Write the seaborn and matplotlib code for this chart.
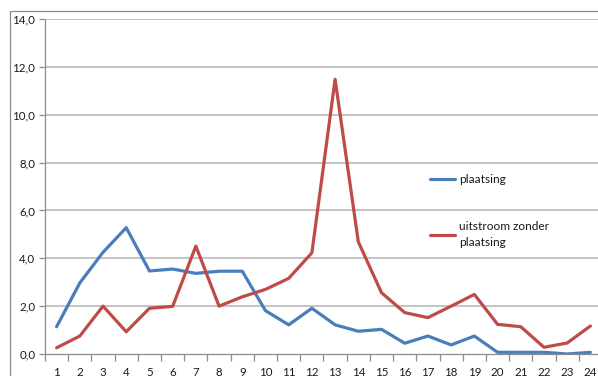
import matplotlib
matplotlib.use("Agg")
import matplotlib.pyplot as plt
from matplotlib.patches import Rectangle
from matplotlib.ticker import FixedLocator, FuncFormatter
import numpy as np
import pandas as pd
import seaborn as sns

# Maand-/periodenummers op de x-as
periods = list(range(1, 25))

# Percentages per periode
plaatsing = [1.14, 2.97, 4.25, 5.28, 3.47, 3.55, 3.37, 3.46, 3.46, 1.81, 1.22, 1.91,
             1.22, 0.95, 1.03, 0.45, 0.75, 0.38, 0.75, 0.07, 0.07, 0.07, 0.0, 0.07]
uitstroom = [0.26, 0.75, 2.0, 0.93, 1.91, 1.99, 4.51, 2.0, 2.39, 2.70, 3.16, 4.23,
             11.48, 4.69, 2.56, 1.73, 1.52, 2.0, 2.49, 1.24, 1.14, 0.28, 0.46, 1.17]

series_names = ["plaatsing", "uitstroom zonder\nplaatsing"]
series_colors = ["#4A7EBB", "#BE4B48"]
y_ticks = [0, 2, 4, 6, 8, 10, 12, 14]

df = pd.DataFrame({
    "periode": periods * 2,
    "waarde": plaatsing + uitstroom,
    "reeks": [series_names[0]] * len(periods) + [series_names[1]] * len(periods),
})

sns.set_theme(style="white")
plt.rcParams["font.family"] = ["Lato", "DejaVu Sans"]

W, H = 598, 376
fig = plt.figure(figsize=(W / 100, H / 100), dpi=100)
fig.patch.set_facecolor("white")

# outer chart frame (extends past the right/bottom edge)
fig.patches.append(Rectangle((9.5 / W, -0.1), 1.2, (H - 10.5) / H + 0.1,
                             transform=fig.transFigure, fill=False,
                             edgecolor="#8c8c8c", linewidth=0.9, zorder=0))

ax_left, ax_right = 45, 602
ax_top, ax_bottom = 19, 354
ax = fig.add_axes([ax_left / W, (H - ax_bottom) / H,
                   (ax_right - ax_left) / W, (ax_bottom - ax_top) / H])

sns.lineplot(data=df, x="periode", y="waarde", hue="reeks",
             palette=dict(zip(series_names, series_colors)),
             linewidth=2.3, ax=ax, legend=False, zorder=3)

ax.set_xlim(0.5, 24.5)
ax.set_ylim(0, 14)
ax.set_xlabel("")
ax.set_ylabel("")

# y-axis with decimal comma labels
ax.yaxis.set_major_locator(FixedLocator(y_ticks))
ax.yaxis.set_major_formatter(FuncFormatter(lambda v, p: f"{v:.1f}".replace(".", ",")))
for yv in y_ticks[1:]:
    ax.axhline(yv, color="#b4b4b4", linewidth=1.1, zorder=1)

# x-axis: labels at category centres, tick marks between categories
ax.xaxis.set_major_locator(FixedLocator(periods))
ax.xaxis.set_minor_locator(FixedLocator(np.arange(0.5, 25, 1.0)))
ax.tick_params(axis="x", which="major", length=0, pad=9, labelsize=8.3, colors="#1a1a1a")
ax.tick_params(axis="x", which="minor", length=5, width=0.9, color="#8c8c8c", direction="out", bottom=True)
ax.tick_params(axis="y", which="major", length=4, width=0.9, color="#8c8c8c", direction="out",
               left=True, pad=3, labelsize=8.3, labelcolor="#1a1a1a")

for side in ["top", "right"]:
    ax.spines[side].set_visible(False)
for side in ["left", "bottom"]:
    ax.spines[side].set_color("#8c8c8c")
    ax.spines[side].set_linewidth(0.9)
    ax.spines[side].set_zorder(4)

# legend
handles = [plt.Line2D([], [], color=c, linewidth=2.3) for c in series_colors]
leg = ax.legend(handles, series_names, loc="upper left",
                bbox_to_anchor=((430 - ax_left) / (ax_right - ax_left), (ax_bottom - 174) / (ax_bottom - ax_top)),
                frameon=False, fontsize=8.6, handlelength=2.1, handletextpad=0.3,
                labelspacing=3.0, borderaxespad=0, borderpad=0)
for t in leg.get_texts():
    t.set_color("#1a1a1a")
    t.set_linespacing(1.6)

fig.savefig("out.png", dpi=100, facecolor="white")
